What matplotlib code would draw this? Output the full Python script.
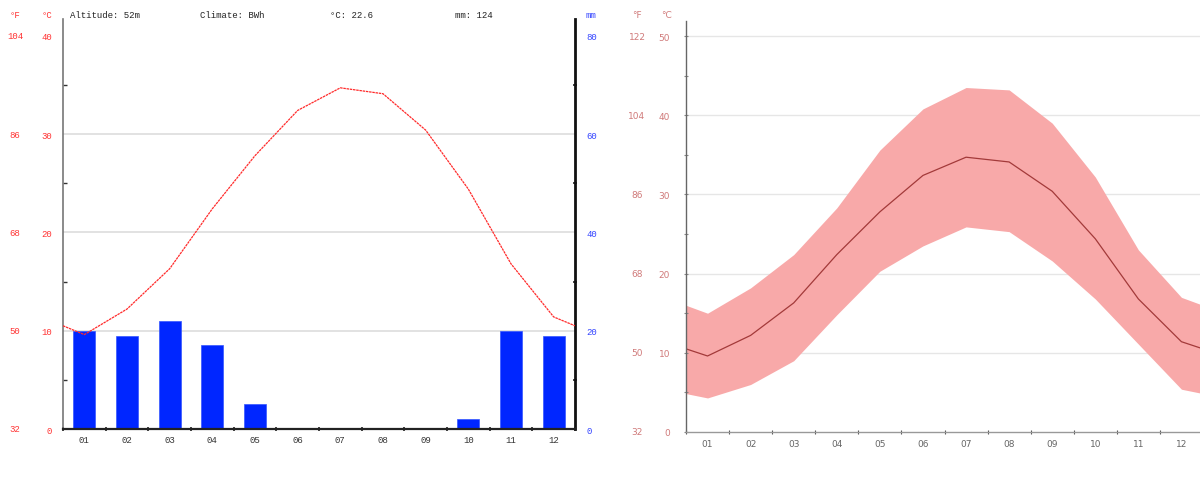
import matplotlib
matplotlib.use("Agg")
import matplotlib.pyplot as plt
import matplotlib.transforms as mtransforms
import numpy as np

# ---------------- data ----------------
months = ["01", "02", "03", "04", "05", "06", "07", "08", "09", "10", "11", "12"]
temp_mean = [9.6, 12.2, 16.3, 22.4, 27.8, 32.4, 34.7, 34.1, 30.4, 24.4, 16.8, 11.4]
precip_mm = [20, 19, 22, 17, 5, 0, 0, 0, 0, 2, 20, 19]
temp_max = [15.0, 18.2, 22.4, 28.3, 35.6, 40.8, 43.5, 43.2, 39.0, 32.2, 23.0, 17.0]
temp_min = [4.3, 6.0, 9.0, 14.8, 20.3, 23.5, 25.9, 25.3, 21.6, 16.8, 11.1, 5.4]
c_ticks = [0, 10, 20, 30, 40]
f_labels_left = ["32", "50", "68", "86", "104"]
mm_ticks = [0, 20, 40, 60, 80]
c_ticks_right = [0, 10, 20, 30, 40, 50]
f_labels_right = ["32", "50", "68", "86", "104", "122"]
header = ["Altitude: 52m", "Climate: BWh", "°C: 22.6", "mm: 124"]

W, H = 1200, 481
fig = plt.figure(figsize=(W / 100, H / 100), dpi=100)
fig.patch.set_facecolor("white")

mono = ["Liberation Mono", "DejaVu Sans Mono"]
x = np.arange(1, 13)

def with_edges(vals):
    edge = (vals[0] + vals[-1]) / 2.0
    return np.r_[0.5, x, 12.5], np.r_[edge, vals, edge]

def px(l, t, r, b):
    return [l / W, 1 - b / H, (r - l) / W, (b - t) / H]

# ---------------- left: climate chart ----------------
ax = fig.add_axes(px(63, 20, 575, 430))
axm = ax.twinx()
ymax_c = 41.7
ax.set_ylim(0, ymax_c)
axm.set_ylim(0, ymax_c * 2)
ax.set_xlim(0.5, 12.5)

ax.set_zorder(2)
ax.patch.set_visible(False)
axm.set_zorder(1)

for g in mm_ticks[1:-1]:
    axm.axhline(g, color="#dddddd", lw=1.2, zorder=0)
axm.bar(x, precip_mm, width=0.52, color="#0026ff", edgecolor="#3355ff", lw=0.5, zorder=2)

lx, ly = with_edges(temp_mean)
ax.plot(lx, ly, color="#ff2a2a", lw=0.9, ls=(0, (2, 0.6)), zorder=3)

ax.set_yticks(c_ticks)
ax.set_yticklabels([str(v) for v in c_ticks], color="#ff3333", fontsize=6.5, family=mono)
ax.set_yticks(np.arange(5, 41, 10), minor=True)
ax.tick_params(axis="y", which="both", length=3, width=1, color="#333333", direction="in", pad=8)
ax.tick_params(axis="y", which="major", length=0)
axm.set_yticks(mm_ticks)
axm.set_yticklabels([str(v) for v in mm_ticks], color="#3344ff", fontsize=6.5, family=mono)
axm.set_yticks(np.arange(10, 80, 20), minor=True)
axm.tick_params(axis="y", which="both", length=3, width=1.2, color="#222222", direction="inout", pad=8)
axm.tick_params(axis="y", which="major", length=0)

ax.set_xticks(x)
ax.set_xticklabels(months, fontsize=6.5, family=mono, color="#333333")
ax.set_xticks(np.arange(0.5, 12.6, 1), minor=True)
ax.tick_params(axis="x", which="major", length=0, pad=4)
ax.tick_params(axis="x", which="minor", length=3, width=1.2, color="#222222", direction="inout")

for a in (ax, axm):
    a.spines["top"].set_visible(False)
ax.spines["left"].set_color("#777777")
ax.spines["left"].set_linewidth(1.2)
ax.spines["bottom"].set_color("#222222")
ax.spines["bottom"].set_linewidth(1.6)
ax.spines["right"].set_visible(False)
axm.spines["left"].set_visible(False)
axm.spines["bottom"].set_visible(False)
axm.spines["right"].set_color("#111111")
axm.spines["right"].set_linewidth(2.0)

# °F column on left chart
trans = mtransforms.blended_transform_factory(fig.transFigure, ax.transData)
for c, f in zip(c_ticks, f_labels_left):
    fig.text(15 / W, 0, f, transform=trans, ha="center", va="center",
             color="#ff3333", fontsize=6.5, family=mono).set_y(c)

fig.text(15 / W, 1 - 16 / H, "°F", ha="center", va="center", color="#ff3333", fontsize=6.5, family=mono)
fig.text(47 / W, 1 - 16 / H, "°C", ha="center", va="center", color="#ff3333", fontsize=6.5, family=mono)
fig.text(591 / W, 1 - 16 / H, "mm", ha="center", va="center", color="#3344ff", fontsize=6.5, family=mono)
for xpos, t in zip([70, 200, 330, 455], header):
    fig.text(xpos / W, 1 - 16 / H, t, ha="left", va="center", color="#222222", fontsize=6.5, family=mono)

# ---------------- right: temperature band ----------------
ax2 = fig.add_axes(px(686, 22, 1203, 433))
ymax_r = 51.9
ax2.set_ylim(0, ymax_r)
ax2.set_xlim(0.5, 12.5)
for g in c_ticks_right[1:]:
    ax2.axhline(g, color="#e6e6e6", lw=1.0, zorder=0)

bx, bu = with_edges(temp_max)
_, bl = with_edges(temp_min)
ax2.fill_between(bx, bl, bu, color="#f8a9a9", lw=0, zorder=1)
rx, ry = with_edges(temp_mean)
ax2.plot(rx, ry, color="#a33a3a", lw=0.9, zorder=2)

ax2.set_yticks(c_ticks_right)
ax2.set_yticklabels([str(v) for v in c_ticks_right], color="#d07a7a", fontsize=6.5)
ax2.set_yticks(np.arange(5, 51, 10), minor=True)
ax2.tick_params(axis="y", which="both", length=3, width=0.8, color="#888888", direction="inout", pad=10)
ax2.set_xticks(x)
ax2.set_xticklabels(months, fontsize=6.5, color="#666666")
ax2.set_xticks(np.arange(0.5, 12.6, 1), minor=True)
ax2.tick_params(axis="x", which="major", length=0, pad=5)
ax2.tick_params(axis="x", which="minor", length=3, width=0.8, color="#555555", direction="inout")
for s in ("top", "right"):
    ax2.spines[s].set_visible(False)
ax2.spines["left"].set_color("#666666")
ax2.spines["left"].set_linewidth(1.0)
ax2.spines["bottom"].set_color("#999999")
ax2.spines["bottom"].set_linewidth(1.0)

trans2 = mtransforms.blended_transform_factory(fig.transFigure, ax2.transData)
for c, f in zip(c_ticks_right, f_labels_right):
    t = fig.text(637 / W, 0, f, transform=trans2, ha="center", va="center", color="#d07a7a", fontsize=6.5)
    t.set_y(c)
fig.text(637 / W, 1 - 15 / H, "°F", ha="center", va="center", color="#d07a7a", fontsize=6.5)
fig.text(666 / W, 1 - 15 / H, "°C", ha="center", va="center", color="#d07a7a", fontsize=6.5)

fig.savefig("out.png", dpi=100)
